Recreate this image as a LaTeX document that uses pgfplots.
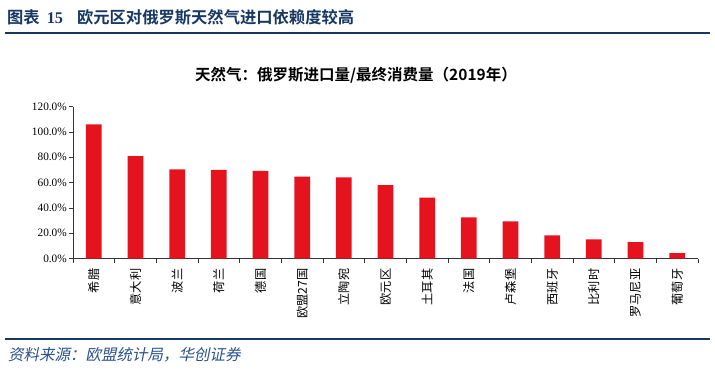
\documentclass[border=0pt]{standalone}
\usepackage{fontspec}
\setmainfont{Liberation Serif}
\newfontfamily\cjk{Noto Sans CJK SC}[BoldFont={Noto Sans CJK SC Bold}]
\newfontfamily\cjkslant{Noto Sans CJK SC}[FakeSlant=0.2]
\usepackage{pgfplots}
\pgfplotsset{compat=1.18}
\definecolor{navy}{RGB}{23,55,100}
\definecolor{srcblue}{RGB}{40,80,140}
\definecolor{barred}{RGB}{228,19,30}
\begin{document}
\begin{tikzpicture}
\path[use as bounding box] (0,0) rectangle (715bp,-377bp);
% header
\node[anchor=west, inner sep=0, text=navy] at (7bp,-17bp)
  {\cjk\bfseries\fontsize{16.3bp}{17bp}\selectfont 图表\hspace{7bp}{\rmfamily\bfseries 15}\hspace{14bp}欧元区对俄罗斯天然气进口依赖度较高};
\draw[navy, line width=2.5bp] (5bp,-33bp) -- (710bp,-33bp);
% chart title
\node[anchor=center, inner sep=0] at (356bp,-75bp)
  {\cjk\bfseries\fontsize{15.5bp}{16bp}\selectfont 天然气：俄罗斯进口量/最终消费量（2019年）};
\begin{axis}[
  at={(73bp,-258.5bp)}, anchor=south west,
  scale only axis, width=625bp, height=151.8bp,
  xmin=-0.5, xmax=14.5, ymin=0, ymax=120,
  axis x line*=bottom, axis y line*=left,
  axis line style={black!80, line width=0.8pt},
  tick align=outside,
  xtick={0,...,14},
  major x tick style={draw=none},
  minor xtick={-0.5,0.5,...,14.5},
  minor tick length=4bp,
  minor x tick style={black!80, line width=0.8pt},
  xticklabels={希腊,意大利,波兰,荷兰,德国,欧盟27国,立陶宛,欧元区,土耳其,法国,卢森堡,西班牙,比利时,罗马尼亚,葡萄牙},
  xticklabel style={font=\cjk\fontsize{12.2bp}{13bp}\selectfont, yshift=-5bp, rotate=90, anchor=east, inner sep=1bp},
  ytick={0,20,...,120},
  major tick length=4bp,
  major y tick style={black!80, line width=0.8pt},
  yticklabel={\pgfmathprintnumber[fixed,fixed zerofill,precision=1]{\tick}\%},
  yticklabel style={font=\fontsize{11.3bp}{12bp}\selectfont, /pgf/number format/assume math mode=true, inner sep=2bp},
  ybar, bar width=15.7bp,
  clip=false,
]
\addplot[fill=barred, draw=none] coordinates {
(0,106.1) (1,81.0) (2,70.5) (3,70.0) (4,69.2) (5,64.7) (6,64.2) (7,58.1)
(8,48.1) (9,32.6) (10,29.4) (11,18.3) (12,15.2) (13,13.0) (14,4.3)};
\end{axis}
% footer
\draw[navy, line width=2.5bp] (5bp,-339bp) -- (710bp,-339bp);
\node[anchor=west, inner sep=0, text=srcblue] at (8bp,-355bp)
  {\cjkslant\fontsize{15.5bp}{16bp}\selectfont 资料来源：欧盟统计局，华创证券};
\end{tikzpicture}
\end{document}
